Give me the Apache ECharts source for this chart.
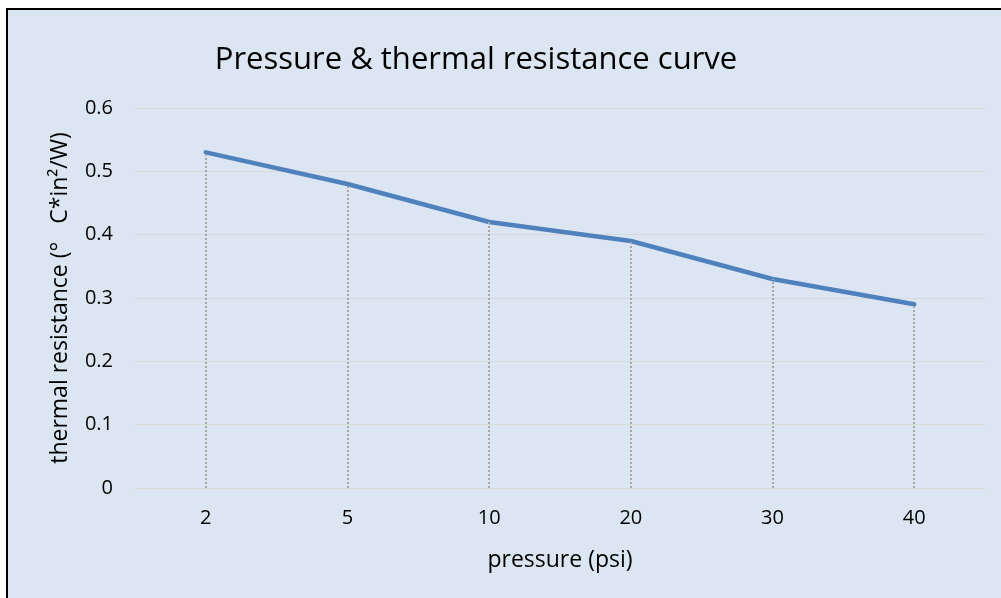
<!DOCTYPE html>
<html><head><meta charset="utf-8">
<script src="https://cdn.jsdelivr.net/npm/echarts@6/dist/echarts.min.js"></script>
<style>html,body{margin:0;padding:0;background:#fff}#c{width:1001px;height:598px}</style>
</head><body><div id="c"></div>
<script>
const categories = ['2','5','10','20','30','40'];
const values = [0.53, 0.48, 0.42, 0.39, 0.33, 0.29];
const yTicks = [0, 0.1, 0.2, 0.3, 0.4, 0.5, 0.6];
const titleText = 'Pressure & thermal resistance curve';
const xName = 'pressure (psi)';
const yName = 'thermal resistance (°   C*in²/W)';

const chart = echarts.init(document.getElementById('c'));
const font = '"Open Sans", "Liberation Sans", sans-serif';
chart.setOption({
  animation: false,
  backgroundColor: '#fff',
  graphic: [{
    type: 'rect', z: -10,
    shape: {x: 7, y: 9, width: 1010, height: 600},
    style: {fill: '#dce6f2', stroke: '#000', lineWidth: 2}
  }],
  title: {
    text: titleText, left: 471, top: 40, textAlign: 'center',
    textStyle: {fontFamily: font, fontWeight: 'normal', fontSize: 31, color: '#000'}
  },
  grid: {left: 135, right: 16, top: 108, bottom: 110},
  xAxis: {
    type: 'category', data: categories, boundaryGap: true,
    name: xName, nameLocation: 'middle', nameGap: 61,
    nameTextStyle: {fontFamily: font, fontSize: 23, color: '#000'},
    axisLine: {show: true, lineStyle: {color: '#d9d9d9', width: 1}},
    axisTick: {show: false},
    axisLabel: {fontFamily: font, fontSize: 20, color: '#000', margin: 20}
  },
  yAxis: {
    type: 'value', min: yTicks[0], max: yTicks[yTicks.length-1], interval: 0.1,
    name: yName, nameLocation: 'middle', nameGap: 63,
    nameTextStyle: {fontFamily: font, fontSize: 23, color: '#000'},
    axisLine: {show: false}, axisTick: {show: false},
    axisLabel: {fontFamily: font, fontSize: 20, color: '#000', margin: 22,
      formatter: v => String(Math.round(v*10)/10)},
    splitLine: {lineStyle: {color: '#d9d9d9', width: 1}}
  },
  series: [{
    type: 'line', data: values, symbol: 'none',
    lineStyle: {color: '#4f81bd', width: 4.5, cap: 'round', join: 'round'},
    markLine: {
      silent: true, symbol: 'none', label: {show: false},
      lineStyle: {color: '#a6a6a6', type: [2, 2], width: 2},
      data: values.map((v, i) => [{coord: [i, 0]}, {coord: [i, v]}])
    }
  }]
});
</script></body></html>
